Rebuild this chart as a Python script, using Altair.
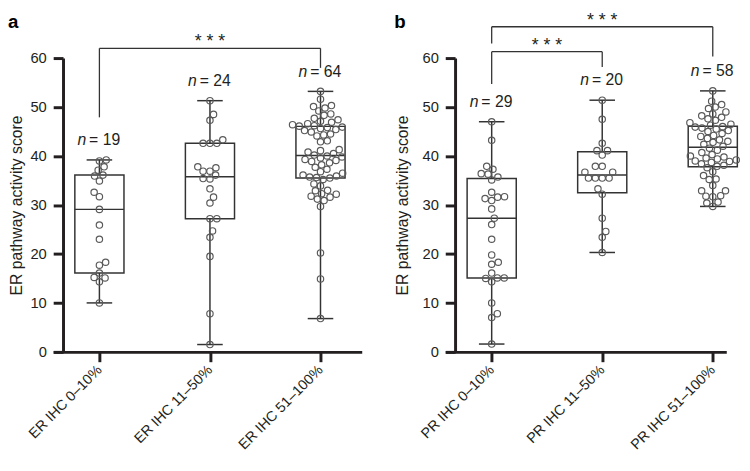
import altair as alt
import numpy as np
import pandas as pd

# ---------------- data ----------------
er_labels = ["ER IHC 0–10%", "ER IHC 11–50%", "ER IHC 51–100%"]
pr_labels = ["PR IHC 0–10%", "PR IHC 11–50%", "PR IHC 51–100%"]

er_0_10 = [10.0, 14.3, 15.1, 15.2, 16.1, 17.7, 18.3, 23.0, 25.9, 29.1, 31.7, 32.6,
           34.9, 35.9, 36.1, 37.1, 37.8, 39.0, 39.2]
er_11_50 = [1.5, 7.8, 19.5, 23.4, 24.7, 27.2, 27.2, 30.4, 31.6, 33.3, 35.3, 35.4,
            36.1, 36.9, 36.9, 37.6, 37.8, 42.6, 42.6, 42.6, 43.3, 47.3, 48.5, 51.3]
er_51_100 = [6.8, 14.9, 20.2, 29.7, 30.9, 31.2, 31.6, 31.8, 32.2, 32.3, 32.9, 33.0, 33.9, 34.3, 35.2, 35.5,
             35.6, 35.7, 35.9, 36.1, 36.5, 36.8, 37.3, 37.7, 38.2, 38.6, 38.9, 39.1, 39.3, 39.6, 39.8, 40.0,
             40.2, 40.5, 40.8, 41.1, 41.3, 42.9, 43.1, 44.1, 44.3, 44.5, 44.9, 45.2, 45.4, 45.6, 45.8, 45.9,
             46.1, 46.2, 46.4, 46.6, 46.9, 47.1, 47.4, 47.7, 48.3, 48.6, 49.2, 49.8, 50.1, 50.3, 51.6, 53.2]

pr_0_10 = [1.6, 7.0, 7.8, 10.0, 14.3, 15.0, 15.1, 15.1, 16.1, 17.9, 18.3, 19.8, 23.0, 26.0, 27.3,
           29.2, 30.9, 31.3, 31.6, 31.7, 32.6, 35.1, 35.7, 36.3, 36.4, 37.3, 37.9, 43.2, 47.0]
pr_11_50 = [20.3, 23.4, 24.6, 27.3, 32.2, 33.3, 35.5, 35.5, 35.5, 35.5, 36.7, 36.7, 37.9, 37.9,
            40.2, 41.1, 41.1, 42.6, 47.5, 51.4]
pr_51_100 = [29.7, 30.4, 30.6, 31.7, 31.8, 31.9, 32.9, 32.9, 34.0, 35.2, 35.3, 36.0, 36.8, 37.6,
             37.9, 38.1, 38.4, 38.7, 38.9, 39.0, 39.2, 39.4, 39.6, 39.8, 40.0, 40.3, 40.7, 41.2, 41.6,
             42.0, 42.4, 42.8, 43.0, 43.3, 43.6, 44.0, 44.2, 44.6, 45.0, 45.2, 45.5, 45.7, 45.9, 46.0,
             46.3, 46.5, 46.8, 47.3, 47.6, 47.9, 48.2, 48.6, 49.0, 49.7, 50.0, 50.5, 51.2, 53.3]

# significance brackets: (from group, to group, bar level, left leg end, right leg end)
er_brackets = [(0, 2, 62.0, 47.9, 58.0)]
pr_brackets = [(0, 1, 61.3, 54.7, 58.2), (0, 2, 66.4, 63.0, 60.3)]

y_title = "ER pathway activity score"
y_ticks = [0, 10, 20, 30, 40, 50, 60]

# ---------------- styling / layout ----------------
FONT = "Liberation Sans"
INK = "#231f20"
BOXC = "#333333"
PTC = "#5a5a5a"
PX_X = 112.5           # pixels per category step
PLOT_H = 299
PX_Y = PLOT_H / 60.0
BOX_HALF = 25 / PX_X
CAP_HALF = 13 / PX_X
DIAM = 7.0


def swarm(vals):
    vals = np.asarray(vals, dtype=float)
    order = np.argsort(vals, kind="stable")
    placed = []
    offs = np.zeros(len(vals))
    flip = 1.0
    for i in order:
        y = vals[i] * PX_Y
        near = [(py, px) for py, px in placed if abs(py - y) < DIAM]
        cands = [0.0]
        for py, px in near:
            dx = np.sqrt(DIAM * DIAM - (py - y) ** 2)
            cands += [px + dx, px - dx]
        cands.sort(key=lambda c: (round(abs(c), 3), -flip * c))
        for c in cands:
            if all((c - px) ** 2 + (y - py) ** 2 >= DIAM * DIAM - 1e-6 for py, px in near):
                offs[i] = c
                placed.append((y, c))
                break
        flip = -flip
    return offs


def panel(groups, labels, brackets, xdom, width, letter, letter_x, title_pad):
    stats = []
    pts = []
    for i, v in enumerate(groups):
        q1, med, q3 = np.percentile(v, [25, 50, 75], method="weibull")
        stats.append(dict(i=i, q1=q1, med=med, q3=q3, mn=min(v), mx=max(v),
                          bl=i - BOX_HALF, br=i + BOX_HALF,
                          cl=i - CAP_HALF, cr=i + CAP_HALF,
                          ntext="= %d" % len(v)))
        offs = swarm(v)
        for val, o in zip(v, offs):
            pts.append(dict(x=i + o / PX_X, y=val))
    sdf = pd.DataFrame(stats)
    pdf = pd.DataFrame(pts)
    bdf = pd.DataFrame([dict(x1=a, x2=b, top=t, le=l, re=r, mid=(a + b) / 2)
                        for a, b, t, l, r in brackets])
    ldf = pd.DataFrame({"t": [letter]})

    label_expr = "[" + ",".join("'%s'" % s for s in labels) + "][datum.value]"
    xaxis = alt.Axis(values=[0, 1, 2], labelExpr=label_expr, labelAngle=-45,
                     labelAlign="right", labelBaseline="middle",
                     labelFontSize=14.5, labelColor=INK, labelPadding=6,
                     tickSize=10, tickWidth=3, tickColor=INK,
                     domainWidth=3, domainColor=INK, grid=False)
    yaxis = alt.Axis(values=y_ticks, offset=-10, tickSize=10, tickWidth=3, tickColor=INK,
                     domainWidth=3, domainColor=INK, labelFontSize=15, labelColor=INK,
                     labelPadding=7, grid=False, title=y_title, titleFontSize=16,
                     titleFontWeight="normal", titleColor=INK, titlePadding=title_pad)
    xs = alt.Scale(domain=xdom, nice=False, zero=False)
    ys = alt.Scale(domain=[0, 60], nice=False, zero=False)

    def X(f):
        return alt.X(f, type="quantitative", scale=xs, axis=xaxis, title=None)

    def Y(f):
        return alt.Y(f, type="quantitative", scale=ys, axis=yaxis, title=y_title)

    base = alt.Chart(sdf)
    wlo = base.mark_rule(color=BOXC, strokeWidth=1.5).encode(x=X("i"), y=Y("mn"), y2="q1")
    whi = base.mark_rule(color=BOXC, strokeWidth=1.5).encode(x=X("i"), y=Y("q3"), y2="mx")
    box = base.mark_rect(fill="white", stroke=BOXC, strokeWidth=1.5).encode(
        x=X("bl"), x2="br", y=Y("q1"), y2="q3")
    medr = base.mark_rule(color=BOXC, strokeWidth=1.5).encode(x=X("bl"), x2="br", y=Y("med"))
    caplo = base.mark_rule(color=BOXC, strokeWidth=1.5).encode(x=X("cl"), x2="cr", y=Y("mn"))
    caphi = base.mark_rule(color=BOXC, strokeWidth=1.5).encode(x=X("cl"), x2="cr", y=Y("mx"))
    points = alt.Chart(pdf).mark_point(shape="circle", size=42, filled=False,
                                       strokeWidth=1.2, color=PTC, opacity=1).encode(
        x=X("x"), y=Y("y"))
    nlab = base.mark_text(font=FONT, fontSize=16, fontStyle="italic", color=INK,
                          align="right", baseline="middle", dx=-13.5, dy=-20).encode(
        x=X("i"), y=Y("mx"), text=alt.value("n"))
    neq = base.mark_text(font=FONT, fontSize=16, color=INK,
                         align="left", baseline="middle", dx=-10.5, dy=-20).encode(
        x=X("i"), y=Y("mx"), text="ntext:N")

    bb = alt.Chart(bdf)
    bh = bb.mark_rule(color=BOXC, strokeWidth=1.3).encode(x=X("x1"), x2="x2", y=Y("top"))
    bl_ = bb.mark_rule(color=BOXC, strokeWidth=1.3).encode(x=X("x1"), y=Y("le"), y2="top")
    br_ = bb.mark_rule(color=BOXC, strokeWidth=1.3).encode(x=X("x2"), y=Y("re"), y2="top")
    stars = bb.mark_text(font=FONT, fontSize=18, color=INK, baseline="top",
                         align="center", dy=-15).encode(
        x=X("mid"), y=Y("top"), text=alt.value("* * *"))

    lett = alt.Chart(ldf).mark_text(font=FONT, fontSize=19, fontWeight="bold", color="black",
                                    align="left", baseline="top").encode(
        x=alt.value(letter_x), y=alt.value(-46), text="t:N")

    return alt.layer(wlo, whi, box, medr, caplo, caphi, points, nlab, neq,
                     bh, bl_, br_, stars, lett).properties(width=width, height=PLOT_H)


pa = panel([er_0_10, er_11_50, er_51_100], er_labels, er_brackets,
           [-0.418, 2.373], 314, "a", -46, 6)
pb = panel([pr_0_10, pr_11_50, pr_51_100], pr_labels, pr_brackets,
           [-0.42, 2.1222], 286, "b", -52, 12)

chart = alt.hconcat(pa, pb, spacing=33).properties(padding=0).configure(
    font=FONT).configure_view(strokeWidth=0)

chart.save("out.html", embed_options={"renderer": "svg", "actions": False})
